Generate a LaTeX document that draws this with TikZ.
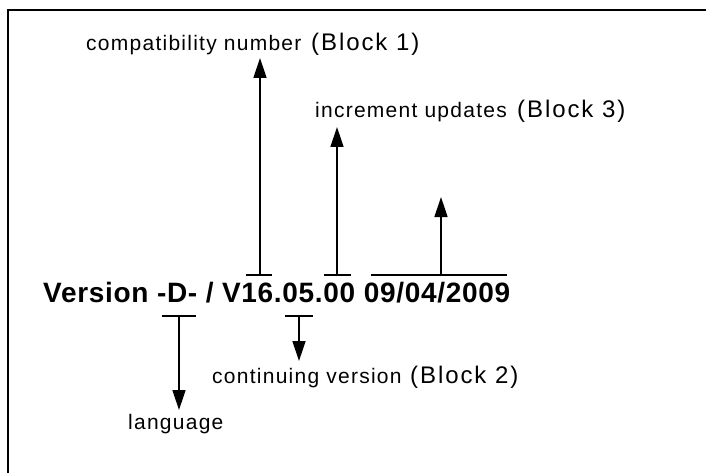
\documentclass[tikz,border=0pt]{standalone}
\usepackage{fontspec}
\setmainfont{Liberation Sans}
\newfontfamily\versionfont[LetterSpace=2.5]{Liberation Sans}
\newfontfamily\labelfont[LetterSpace=6]{Liberation Sans}
\newfontfamily\blockfont[LetterSpace=8]{Liberation Sans}
\usetikzlibrary{arrows.meta}
\begin{document}
\begin{tikzpicture}[x=1pt,y=-1pt,
  txt/.style={inner sep=0pt,anchor=base west},
  version/.style={txt,font=\versionfont\bfseries\fontsize{28}{30}\selectfont},
  lbl/.style={txt,font=\labelfont\fontsize{21}{24}\selectfont},
  blk/.style={txt,font=\blockfont\fontsize{24}{27}\selectfont},
  bar/.style={line width=1.4pt},
  pointer/.style={line width=1.4pt,-{Triangle[length=20pt,width=13pt]}},
  frame/.style={line width=2pt}]
\useasboundingbox (0,0) rectangle (706,473);
% partial frame: only the top and left edges lie inside the picture
\draw[frame] (8,480) -- (8,10) -- (712,10);

% the version string
\node[version] (ver) at (43,302) {Version -D- / V16.05.00 09/04/2009};

% labels
\node[lbl] (compat) at (86,51) {compatibility number};
\node[blk] (b1) at (311,51) {(Block 1)};
\node[lbl] (incr) at (315,118) {increment updates};
\node[blk] (b3) at (517,118) {(Block 3)};
\node[lbl] (cont) at (212,383) {continuing version};
\node[blk] (b2) at (410,383) {(Block 2)};
\node[lbl] (lang) at (128,429) {language};

% bars over and under the parts of the string
\coordinate (o1a) at (246,275); \coordinate (o1b) at (272,275);
\coordinate (o2a) at (324,275); \coordinate (o2b) at (351,275);
\coordinate (o3a) at (371,275); \coordinate (o3b) at (507,275);
\coordinate (u1a) at (162,316); \coordinate (u1b) at (196,316);
\coordinate (u2a) at (285,316); \coordinate (u2b) at (313,316);
\draw[bar] (o1a) -- (o1b);
\draw[bar] (o2a) -- (o2b);
\draw[bar] (o3a) -- (o3b);
\draw[bar] (u1a) -- (u1b);
\draw[bar] (u2a) -- (u2b);

% arrow roots and tips
\coordinate (r1) at (260,275); \coordinate (t1) at (260,58);
\coordinate (r2) at (337,275); \coordinate (t2) at (337,127);
\coordinate (r3) at (441,275); \coordinate (t3) at (441,197);
\coordinate (r4) at (179,316); \coordinate (t4) at (179,410);
\coordinate (r5) at (299,316); \coordinate (t5) at (299,361);
\draw[pointer] (r1) -- (t1);
\draw[pointer] (r2) -- (t2);
\draw[pointer] (r3) -- (t3);
\draw[pointer] (r4) -- (t4);
\draw[pointer] (r5) -- (t5);
\end{tikzpicture}
\end{document}
